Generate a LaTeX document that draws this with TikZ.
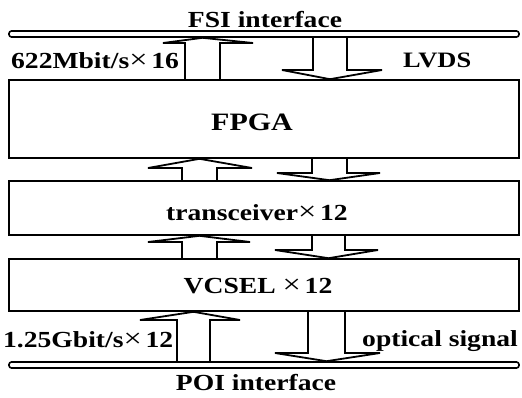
\documentclass[tikz,border=0pt]{standalone}
\usepackage{fontspec}
\setmainfont{Liberation Serif}
\newfontfamily\lblfont[FakeStretch=1.2]{Liberation Serif}

% thin, wide multiplication sign used in the channel counts
\newcommand\mult{{\mdseries\fontsize{27}{27}\selectfont ×}\,}

% hollow block arrow: #1 foot anchor, #2 tip anchor, #3/#4 shaft edges,
% #5/#6 head barb x, #7 head base y
\newcommand\blockarr[7]{%
  \draw[arr] (#3,0 |- #1) -- (#3,#7) -- (#5,#7) -- ({(#3+#4)/2},0 |- #2)
    -- (#6,#7) -- (#4,#7) -- (#4,0 |- #1);
}

\begin{document}
\begin{tikzpicture}[x=1pt,y=-1pt,
  blk/.style={draw, line width=1.6pt, minimum width=510pt, inner sep=0pt},
  busbar/.style={draw, line width=1.6pt, rounded corners=2.5pt,
    minimum width=510pt, minimum height=6pt, inner sep=0pt},
  arr/.style={draw, line width=1.8pt, line join=miter},
  lbl/.style={font=\lblfont\bfseries\fontsize{23}{25}\selectfont, inner sep=0pt}]
\useasboundingbox (0,0) rectangle (522,397);

% interfaces and functional blocks
\node[busbar] (fsi) at (264,34) {};
\node[blk, minimum height=78pt] (fpga) at (264,119) {};
\node[blk, minimum height=54pt] (trx) at (264,208) {};
\node[blk, minimum height=52pt] (vcsel) at (264,285) {};
\node[busbar] (poi) at (264,365) {};

% block titles
\node[lbl, font=\lblfont\bfseries\fontsize{25}{27}\selectfont, anchor=base] (fpgalbl) at (252,130) {FPGA};
\node[lbl, anchor=base] (trxlbl) at (257,220) {transceiver\mult 12};
\node[lbl, anchor=base] (vcsellbl) at (258,293) {VCSEL \mult 12};

% labels
\node[lbl, anchor=base] (fsilbl) at (265,27) {FSI interface};
\node[lbl, anchor=base] (poilbl) at (256,390) {POI interface};
\node[lbl, anchor=base west] (rate1) at (11,68) {622Mbit/s\mult 16};
\node[lbl, anchor=base west, font=\lblfont\bfseries\fontsize{22}{24}\selectfont] (lvds) at (403,67) {LVDS};
\node[lbl, anchor=base west] (rate2) at (3,347) {1.25Gbit/s\mult 12};
\node[lbl, anchor=base west] (optic) at (362,346) {optical signal};

% data paths
\blockarr{fpga.north}{fsi.south}{185}{220}{163}{253}{43}
\blockarr{fsi.south}{fpga.north}{313}{347}{282}{382}{70}
\blockarr{trx.north}{fpga.south}{182}{217}{148}{252}{168}
\blockarr{fpga.south}{trx.north}{312}{347}{277}{380}{173}
\blockarr{vcsel.north}{trx.south}{182}{217}{148}{250}{242}
\blockarr{trx.south}{vcsel.north}{312}{345}{275}{378}{250}
\blockarr{poi.north}{vcsel.south}{177}{210}{140}{240}{320}
\blockarr{vcsel.south}{poi.north}{308}{345}{275}{380}{353}
\end{tikzpicture}
\end{document}
